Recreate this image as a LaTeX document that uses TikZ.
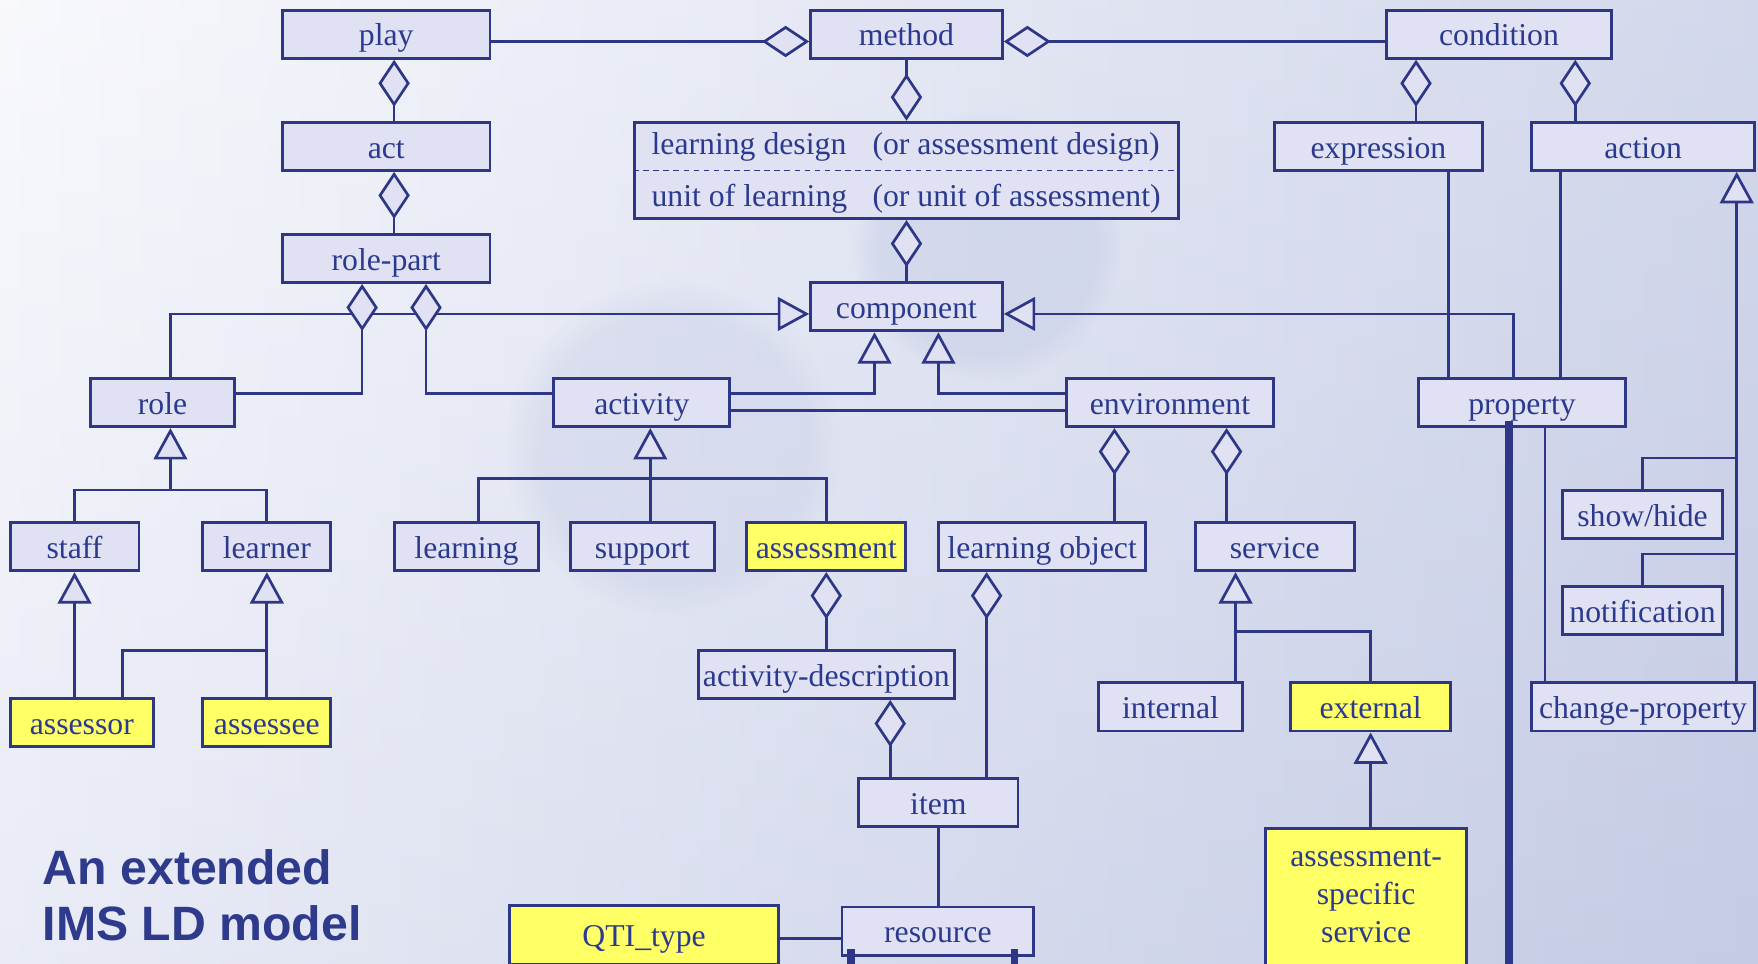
\documentclass[tikz,border=0pt]{standalone}
\usepackage{fontspec}
\setmainfont{Liberation Serif}
\newfontfamily\titlefont{Liberation Sans}
\usetikzlibrary{arrows.meta,calc,fadings}
\definecolor{bord}{HTML}{2E3786}
\definecolor{txt}{HTML}{2B3A8F}
\definecolor{boxfill}{HTML}{E0E2F4}
\definecolor{ylw}{HTML}{FFFF66}
\definecolor{titlecol}{HTML}{2E3A8B}
\definecolor{bgL}{HTML}{F6F7FC}
\definecolor{bgR}{HTML}{C4CBE5}
\tikzset{
  dia/.tip={Diamond[length=42pt,width=28pt,fill=boxfill]},
  tri/.tip={Triangle[length=28pt,width=30pt,fill=boxfill]}
}
\begin{document}
\begin{tikzpicture}[x=1pt,y=-1pt,
  box/.style={draw=bord, line width=2.6pt, fill=boxfill, text=txt,
    font=\fontsize{28.3}{32}\selectfont, inner sep=0pt,
    text height=25pt, text depth=4pt, minimum height=43pt},
  ybox/.style={box, fill=ylw},
  lbl/.style={text=txt, font=\fontsize{28.3}{32}\selectfont, inner sep=0pt},
  conn/.style={draw=bord, line width=2.4pt},
  thick line/.style={draw=bord, line width=6.5pt},
  ttl/.style={text=titlecol, font=\titlefont\bfseries\fontsize{43}{50}\selectfont, inner sep=0pt, anchor=base west}
]
\useasboundingbox (0,0) rectangle (1568,859);
\clip (0,0) rectangle (1568,859);
% background
\shade[left color=bgL, right color=bgR] (0,0) rectangle (1568,859);
\shade[top color=white, bottom color=bgR, opacity=0.25] (0,0) rectangle (1568,859);
\fill[bgR, opacity=0.45, path fading=circle with fuzzy edge 20 percent] (880,220) circle (120);
\fill[bgR, opacity=0.35, path fading=circle with fuzzy edge 20 percent] (600,400) circle (150);

% nodes
\node[box, minimum width=185pt] (play) at (344.5,30.5) {play};
\node[box, minimum width=171pt] (method) at (808.5,30.5) {method};
\node[box, minimum width=200pt] (condition) at (1337,30.5) {condition};
\node[box, minimum width=185pt] (act) at (344.5,130.5) {act};
\node[box, minimum width=485pt, minimum height=86pt] (ld) at (808.5,152) {};
\node[box, minimum width=185pt] (expression) at (1229.5,130.5) {expression};
\node[box, minimum width=199pt] (action) at (1465.5,130.5) {action};
\node[box, minimum width=185pt] (rolepart) at (344.5,230.5) {role-part};
\node[box, minimum width=171pt] (component) at (808.5,273.5) {component};
\node[box, minimum width=128pt] (role) at (145,359) {role};
\node[box, minimum width=157pt] (activity) at (572.5,359) {activity};
\node[box, minimum width=185pt] (environment) at (1043.5,359) {environment};
\node[box, minimum width=185pt] (property) at (1357.5,359) {property};
\node[box, minimum width=115pt] (staff) at (66.5,487.5) {staff};
\node[box, minimum width=114pt] (learner) at (238,487.5) {learner};
\node[box, minimum width=128pt] (learning) at (416,487.5) {learning};
\node[box, minimum width=128pt] (support) at (573,487.5) {support};
\node[ybox, minimum width=142pt] (assessment) at (737,487.5) {assessment};
\node[box, minimum width=185pt] (lobject) at (929.5,487.5) {learning object};
\node[box, minimum width=142pt] (service) at (1137,487.5) {service};
\node[box, minimum width=142pt] (showhide) at (1465,459) {show/hide};
\node[box, minimum width=142pt] (notification) at (1465,544.5) {notification};
\node[box, minimum width=228pt] (actdesc) at (737,601.5) {activity-description};
\node[box, minimum width=128pt] (internal) at (1044,630.5) {internal};
\node[ybox, minimum width=143pt] (external) at (1222.5,630.5) {external};
\node[box, minimum width=199pt] (changeprop) at (1465.5,630.5) {change-property};
\node[ybox, minimum width=128pt] (assessor) at (73,644.5) {assessor};
\node[ybox, minimum width=114pt] (assessee) at (238,644.5) {assessee};
\node[box, minimum width=142pt] (item) at (837,716) {item};
\node[ybox, minimum width=240pt, minimum height=52pt] (qti) at (574.5,834) {QTI\_type};
\node[box, minimum width=171pt] (resource) at (836.5,830.5) {resource};
\node[ybox, minimum width=179pt, minimum height=150pt, anchor=north] (asbox) at (1218.5,738) {};
\node[lbl, anchor=base] (as1) at (1218.5,773) {assessment-};
\node[lbl, anchor=base] (as2) at (1218.5,807) {specific};
\node[lbl, anchor=base] (as3) at (1218.5,841) {service};

% learning design box content
\draw[bord, line width=1.6pt, dash pattern=on 5pt off 4pt] (ld.west) -- (ld.east);
\node[lbl, anchor=base west] (ld1) at (581,138) {learning design};
\node[lbl, anchor=base west] (ld2) at (778,138) {(or assessment design)};
\node[lbl, anchor=base west] (ld3) at (581,184) {unit of learning};
\node[lbl, anchor=base west] (ld4) at (778,184) {(or unit of assessment)};

% title
\node[ttl] (t1) at (38,788.5) {An extended};
\node[ttl] (t2) at (38,839) {IMS LD model};

% connectors: top row
\draw[conn, -dia] ($(play.east)+(0,6.5)$) -- ($(method.west)+(0,6.5)$);
\draw[conn, dia-] ($(method.east)+(0,6.5)$) -- ($(condition.west)+(0,6.5)$);
\draw[conn, dia-] ($(play.south)+(7,0)$) -- ($(act.north)+(7,0)$);
\draw[conn, dia-] ($(act.south)+(7,0)$) -- ($(rolepart.north)+(7,0)$);
\draw[conn, -dia] (method.south) -- (ld.north);
\draw[conn, dia-] (ld.south) -- (component.north);
\draw[conn, dia-] ($(condition.south)+(-74,0)$) coordinate (c1) -- (c1 |- expression.north);
\draw[conn, dia-] ($(condition.south)+(68,0)$) coordinate (c2) -- (c2 |- action.north);

% component generalisations
\draw[conn, -tri] ($(role.north)+(7,0)$) |- ($(component.west)+(0,6.5)$);
\draw[conn, dia-] ($(rolepart.south)+(-21.5,0)$) |- ($(role.east)+(0,-8)$);
\draw[conn, dia-] ($(rolepart.south)+(35.5,0)$) |- ($(activity.west)+(0,-8)$);
\draw[conn, -tri] ($(activity.east)+(0,-8)$) -| ($(component.south)+(-28.5,0)$);
\draw[conn, -tri] ($(environment.west)+(0,-8)$) -| ($(component.south)+(28.5,0)$);
\draw[conn] ($(activity.east)+(0,7)$) -- ($(environment.west)+(0,7)$);
\draw[conn, -tri] ($(property.north)+(-7.5,0)$) |- ($(component.east)+(0,6.5)$);
\draw[conn] ($(expression.south)+(62.5,0)$) coordinate (e1) -- (e1 |- property.north);
\draw[conn] ($(action.south)+(-73.5,0)$) coordinate (a1) -- (a1 |- property.north);
\draw[conn] ($(property.south)+(20.5,0)$) coordinate (p1) -- (p1 |- changeprop.north);
\coordinate (pend) at (1346,870);
\draw[thick line] ($(property.south)+(-11.5,-6)$) -- (pend);

% action generalisation
\draw[conn, -tri] ($(changeprop.north)+(83.5,0)$) coordinate (a2) -- (a2 |- action.south);
\coordinate (jsh) at (1549,408.5);
\coordinate (jno) at (1549,494);
\draw[conn] (showhide.north) |- (jsh);
\draw[conn] (notification.north) |- (jno);

% role generalisation
\coordinate (jr) at (152,437);
\draw[conn, -tri] (staff.north) |- (jr) -- (jr |- role.south);
\draw[conn] (learner.north) |- (jr);
\draw[conn, -tri] (staff.south |- assessor.north) -- (staff.south);
\draw[conn, -tri] (assessee.north) -- (learner.south);
\coordinate (ja) at (238,580);
\draw[conn] ($(assessor.north)+(36,0)$) |- (ja);

% activity generalisation
\coordinate (jact) at (580,427);
\draw[conn, -tri] (jact |- support.north) -- (jact |- activity.south);
\draw[conn] ($(learning.north)+(11,0)$) |- (jact) -| (assessment.north);

% assessment chain
\draw[conn, dia-] (assessment.south) -- (actdesc.north);
\draw[conn, dia-] ($(actdesc.south)+(57,0)$) coordinate (d1) -- (d1 |- item.north);
\draw[conn, dia-] ($(lobject.south)+(-49.5,0)$) coordinate (d2) -- (d2 |- item.north);
\draw[conn] (item.south) -- (item.south |- resource.north);
\draw[conn] ($(resource.west)+(0,6.5)$) coordinate (r1) -- (r1 -| qti.east);
\draw[thick line, line width=7pt] ($(resource.south west)+(9.5,-7)$) -- ++(0,30);
\draw[thick line, line width=7pt] ($(resource.south east)+(-18.5,-7)$) -- ++(0,30);

% environment
\draw[conn, dia-] ($(environment.south)+(-49.5,0)$) coordinate (v1) -- (v1 |- lobject.north);
\draw[conn, dia-] ($(environment.south)+(50.5,0)$) coordinate (v2) -- (v2 |- service.north);
\coordinate (jsv) at (1102,563);
\draw[conn, -tri] (jsv |- internal.north) -- (jsv |- service.south);
\draw[conn] (external.north) |- (jsv);
\draw[conn, -tri] (asbox.north -| external.south) -- (external.south);
\end{tikzpicture}
\end{document}
